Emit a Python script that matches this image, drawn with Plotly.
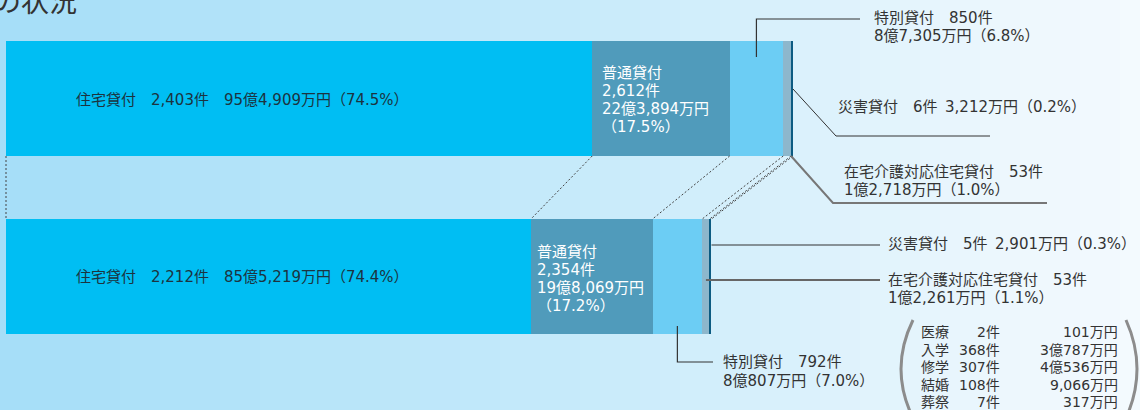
import plotly.graph_objects as go

# 貸付の種類（積み上げ順）
kinds = ["住宅貸付", "普通貸付", "特別貸付", "在宅介護対応住宅貸付", "災害貸付"]
colors = ["#00bef3", "#509bbb", "#6ccdf4", "#8db7cc", "#0b5b82"]

# 上段
top_counts = [2403, 2612, 850, 53, 6]
top_amounts = [954909, 223894, 87305, 12718, 3212]  # 万円
top_pct = [74.5, 17.5, 6.8, 1.0, 0.2]

# 下段
bot_counts = [2212, 2354, 792, 53, 5]
bot_amounts = [855219, 198069, 80807, 12261, 2901]  # 万円
bot_pct = [74.4, 17.2, 7.0, 1.1, 0.3]

# 特別貸付（下段）の内訳
sp_names = ["医療", "入学", "修学", "結婚", "葬祭"]
sp_counts = [2, 368, 307, 108, 7]
sp_amounts = [101, 30787, 40536, 9066, 317]

W, H = 1140, 410
FONT = "DejaVu Sans, Noto Sans CJK JP, sans-serif"
TXT = "#333333"

# axis scales: top bar spans px 6..793, bars 178px apart
s = 787 / sum(top_amounts)
U = 178.0
bar_w = 115 / U


def xd(p):
    return (p - 6) / s


def yd(p):
    return (p - 98.5) / U


def X(p):
    return p / W


def Y(p):
    return 1 - p / H


def yen(man):
    oku, rest = divmod(man, 10000)
    out = f"{oku}億" if oku else ""
    return out + f"{rest:,}万円"


def cum(vals):
    out = [0]
    for v in vals:
        out.append(out[-1] + v)
    return out


ct, cb = cum(top_amounts), cum(bot_amounts)

fig = go.Figure()
for i, k in enumerate(kinds):
    fig.add_trace(go.Bar(
        x=[top_amounts[i], bot_amounts[i]], y=[0, 1], orientation="h",
        name=k, width=bar_w, marker=dict(color=colors[i], line=dict(width=0)),
        hovertemplate=k + ": %{x:,}万円<extra></extra>",
    ))

shapes = []
# background gradient (banded)
stops = [(0, (165, 222, 248)), (570, (198, 234, 250)), (1000, (236, 247, 253)), (1140, (244, 250, 254))]


def grad(p):
    for (a, ca), (b, cb_) in zip(stops, stops[1:]):
        if a <= p <= b:
            t = (p - a) / (b - a)
            return "rgb(%d,%d,%d)" % tuple(round(ca[j] + (cb_[j] - ca[j]) * t) for j in range(3))
    return "rgb(244,250,254)"


step = 20
for p in range(0, W, step):
    shapes.append(dict(type="rect", xref="paper", yref="paper", x0=X(p), x1=X(p + step + 1),
                       y0=0, y1=1, fillcolor=grad(p + step / 2), line=dict(width=0), layer="below"))

# dotted connectors between the two bars
for a, b in zip(ct, cb):
    shapes.append(dict(type="line", xref="x", yref="y", x0=a, y0=bar_w / 2, x1=b, y1=1 - bar_w / 2,
                       line=dict(color="#444", width=1, dash="2px,2px")))


def path(pts, color="#333", width=1.2):
    d = "M " + " L ".join(f"{x},{y}" for x, y in pts)
    shapes.append(dict(type="path", xref="x", yref="y", path=d, line=dict(color=color, width=width)))


# leader lines (top)
xm = ct[2] + top_amounts[2] / 2
path([(xm, yd(57)), (xm, yd(19)), (xd(860), yd(19))])
path([(ct[5], yd(89)), (xd(836), yd(136)), (xd(990), yd(136))], width=1)
path([(ct[4], bar_w / 2), (xd(833), yd(203)), (xd(1047), yd(203))], color="#777", width=2)
# leader lines (bottom)
path([(cb[5], yd(245)), (xd(880), yd(245))])
path([(cb[3] + bot_amounts[3] / 2, yd(280)), (xd(880), yd(280))], color="#666", width=2)
xm = cb[2] + bot_amounts[2] / 2
path([(xm, yd(326)), (xm, yd(362)), (xd(713), yd(362))])

# parentheses round the breakdown
for d in [f"M {X(913)},{Y(320)} Q {X(889)},{Y(369)} {X(913)},{Y(418)}",
          f"M {X(1126)},{Y(320)} Q {X(1148)},{Y(369)} {X(1126)},{Y(418)}"]:
    shapes.append(dict(type="path", xref="paper", yref="paper", path=d, line=dict(color="#8c8c8c", width=3)))

ann = []


def lab(text, x, y, color=TXT, size=15, xanchor="left"):
    ann.append(dict(text=text, x=X(x), y=Y(y), xref="paper", yref="paper", showarrow=False,
                    xanchor=xanchor, yanchor="middle", font=dict(family=FONT, size=size, color=color)))


lab("の状況", -9, 2, color="#333", size=28)

# 住宅貸付
lab(f"住宅貸付　{top_counts[0]:,}件　{yen(top_amounts[0])}（{top_pct[0]}%）", 74, 100, color="#1c3340")
lab(f"住宅貸付　{bot_counts[0]:,}件　{yen(bot_amounts[0])}（{bot_pct[0]}%）", 74, 277, color="#1c3340")

# 普通貸付 (inside the bar, white)
for j, t in enumerate(["普通貸付", f"{top_counts[1]:,}件", yen(top_amounts[1]), f"（{top_pct[1]}%）"]):
    lab(t, 600, 73 + 18 * j, color="white")
for j, t in enumerate(["普通貸付", f"{bot_counts[1]:,}件", yen(bot_amounts[1]), f"（{bot_pct[1]}%）"]):
    lab(t, 535, 252 + 18 * j, color="white")

# right-hand labels (top)
lab(f"特別貸付　{top_counts[2]}件", 872, 18)
lab(f"{yen(top_amounts[2])}（{top_pct[2]}%）", 872, 36)
lab(f"災害貸付　{top_counts[4]}件\u2002{yen(top_amounts[4])}（{top_pct[4]}%）", 836, 107)
lab(f"在宅介護対応住宅貸付　{top_counts[3]}件", 842, 172)
lab(f"{yen(top_amounts[3])}（{top_pct[3]}%）", 842, 190)

# right-hand labels (bottom)
lab(f"災害貸付　{bot_counts[4]}件\u2002{yen(bot_amounts[4])}（{bot_pct[4]}%）", 886, 244)
lab(f"在宅介護対応住宅貸付　{bot_counts[3]}件", 886, 280)
lab(f"{yen(bot_amounts[3])}（{bot_pct[3]}%）", 886, 298)
lab(f"特別貸付　{bot_counts[2]}件", 721, 362)
lab(f"{yen(bot_amounts[2])}（{bot_pct[2]}%）", 721, 381)

# breakdown table
for j in range(len(sp_names)):
    yy = 332 + 17.5 * j
    lab(sp_names[j], 919, yy, size=14)
    lab(f"{sp_counts[j]}件", 1002, yy, size=14, xanchor="right")
    lab(yen(sp_amounts[j]), 1120, yy, size=14, xanchor="right")

fig.update_layout(
    width=W, height=H, autosize=False,
    margin=dict(l=0, r=0, t=0, b=0, pad=0),
    barmode="stack", bargap=0, showlegend=False,
    paper_bgcolor="#eaf6fd", plot_bgcolor="rgba(0,0,0,0)",
    xaxis=dict(range=[xd(0), xd(W)], visible=False, fixedrange=True),
    yaxis=dict(range=[yd(H), yd(0)], visible=False, fixedrange=True),
    shapes=shapes, annotations=ann,
    font=dict(family=FONT, color=TXT),
)

# page body has an 8px default margin; drop it so the chart fills the window
fig.write_html("out.html", config=dict(displayModeBar=False),
               post_script="document.body.style.margin='0';document.body.style.overflow='hidden';")
